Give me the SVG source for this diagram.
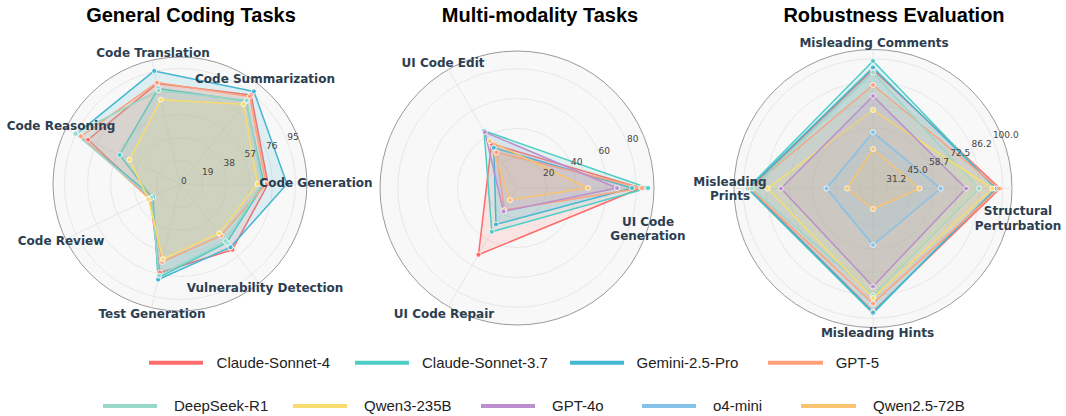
<svg xmlns="http://www.w3.org/2000/svg" width="1066" height="416" viewBox="0 0 1066 416">
<style>
.bg{fill:#f8f8f8;stroke:#9a9a9a;stroke-width:1}
.grid{fill:none;stroke:#e2e2e2;stroke-width:0.8}
.spoke{stroke:#e2e2e2;stroke-width:0.8}
.title{font-family:"Liberation Sans",Arial,sans-serif;font-weight:bold;font-size:20px;fill:#000;text-anchor:middle}
.cat{font-family:"DejaVu Sans",sans-serif;font-weight:bold;font-size:12px;fill:#2C3E50;text-anchor:middle}
.rl{font-family:"DejaVu Sans",sans-serif;font-size:9px;fill:#444}
.lg{font-family:"Liberation Sans",Arial,sans-serif;font-size:15px;fill:#222}
.p{stroke-width:1.5;fill-opacity:0.15;stroke-linejoin:round}
.m{stroke:#fff;stroke-width:0.8}
.ll{stroke-width:4}
.c1{stroke:#FF6B6B;fill:#FF6B6B}
.c2{stroke:#4ECDC4;fill:#4ECDC4}
.c3{stroke:#45B7D1;fill:#45B7D1}
.c4{stroke:#FFA07A;fill:#FFA07A}
.c5{stroke:#98D8C8;fill:#98D8C8}
.c6{stroke:#F7DC6F;fill:#F7DC6F}
.c7{stroke:#BB8FCE;fill:#BB8FCE}
.c8{stroke:#85C1E9;fill:#85C1E9}
.c9{stroke:#F8C471;fill:#F8C471}
.f1{fill:#FF6B6B}.f2{fill:#4ECDC4}.f3{fill:#45B7D1}.f4{fill:#FFA07A}.f5{fill:#98D8C8}.f6{fill:#F7DC6F}.f7{fill:#BB8FCE}.f8{fill:#85C1E9}.f9{fill:#F8C471}
</style>
<rect width="1066" height="416" fill="#fff"/>

<!-- Chart 1 -->
<g id="chart-general">
  <text class="title" x="191" y="22">General Coding Tasks</text>
  <circle class="bg" cx="180" cy="184" r="127"/>
  <g id="c1-grid">
    <circle class="grid" cx="180" cy="184" r="23.1"/>
    <circle class="grid" cx="180" cy="184" r="46.2"/>
    <circle class="grid" cx="180" cy="184" r="69.3"/>
    <circle class="grid" cx="180" cy="184" r="92.4"/>
    <circle class="grid" cx="180" cy="184" r="115.5"/>
    <line class="spoke" x1="180" y1="184" x2="307" y2="184"/>
    <line class="spoke" x1="180" y1="184" x2="259.2" y2="84.7"/>
    <line class="spoke" x1="180" y1="184" x2="151.7" y2="60.2"/>
    <line class="spoke" x1="180" y1="184" x2="65.6" y2="128.9"/>
    <line class="spoke" x1="180" y1="184" x2="65.6" y2="239.1"/>
    <line class="spoke" x1="180" y1="184" x2="151.7" y2="307.8"/>
    <line class="spoke" x1="180" y1="184" x2="259.2" y2="283.3"/>
  </g>
  <g id="c1-series">
    <polygon class="p c1" points="268,184 251.1,94.9 157.1,83.6 88.1,139.7 150.3,198.3 159.8,272.7 232.4,249.7"/>
    <polygon class="p c2" points="264,184 246.1,101.1 158.2,88.5 119.6,154.9 152.1,197.5 158.6,277.6 226.8,242.6"/>
    <polygon class="p c3" points="287,184 253.9,91.4 154.2,70.9 76.4,134.1 153,197 158.2,279.5 230.5,247.3"/>
    <polygon class="p c4" points="266,184 249.8,96.4 156.9,82.6 80.9,136.3 149.4,198.8 162.2,262 221.2,235.6"/>
    <polygon class="p c5" points="262,184 246.7,100.3 158.6,90.4 75.5,133.7 151.2,197.9 159.1,275.6 225.5,241.1"/>
    <polygon class="p c6" points="257.5,184 243.6,104.3 160.8,99.7 129.5,159.7 148.5,199.2 162.9,259.1 219.3,233.3"/>
    <g class="m f1"><circle cx="268" cy="184" r="2.5"/><circle cx="251.1" cy="94.9" r="2.5"/><circle cx="157.1" cy="83.6" r="2.5"/><circle cx="88.1" cy="139.7" r="2.5"/><circle cx="150.3" cy="198.3" r="2.5"/><circle cx="159.8" cy="272.7" r="2.5"/><circle cx="232.4" cy="249.7" r="2.5"/></g>
    <g class="m f2"><circle cx="264" cy="184" r="2.5"/><circle cx="246.1" cy="101.1" r="2.5"/><circle cx="158.2" cy="88.5" r="2.5"/><circle cx="119.6" cy="154.9" r="2.5"/><circle cx="152.1" cy="197.5" r="2.5"/><circle cx="158.6" cy="277.6" r="2.5"/><circle cx="226.8" cy="242.6" r="2.5"/></g>
    <g class="m f3"><circle cx="287" cy="184" r="2.5"/><circle cx="253.9" cy="91.4" r="2.5"/><circle cx="154.2" cy="70.9" r="2.5"/><circle cx="76.4" cy="134.1" r="2.5"/><circle cx="153" cy="197" r="2.5"/><circle cx="158.2" cy="279.5" r="2.5"/><circle cx="230.5" cy="247.3" r="2.5"/></g>
    <g class="m f4"><circle cx="266" cy="184" r="2.5"/><circle cx="249.8" cy="96.4" r="2.5"/><circle cx="156.9" cy="82.6" r="2.5"/><circle cx="80.9" cy="136.3" r="2.5"/><circle cx="149.4" cy="198.8" r="2.5"/><circle cx="162.2" cy="262" r="2.5"/><circle cx="221.2" cy="235.6" r="2.5"/></g>
    <g class="m f5"><circle cx="262" cy="184" r="2.5"/><circle cx="246.7" cy="100.3" r="2.5"/><circle cx="158.6" cy="90.4" r="2.5"/><circle cx="75.5" cy="133.7" r="2.5"/><circle cx="151.2" cy="197.9" r="2.5"/><circle cx="159.1" cy="275.6" r="2.5"/><circle cx="225.5" cy="241.1" r="2.5"/></g>
    <g class="m f6"><circle cx="257.5" cy="184" r="2.5"/><circle cx="243.6" cy="104.3" r="2.5"/><circle cx="160.8" cy="99.7" r="2.5"/><circle cx="129.5" cy="159.7" r="2.5"/><circle cx="148.5" cy="199.2" r="2.5"/><circle cx="162.9" cy="259.1" r="2.5"/><circle cx="219.3" cy="233.3" r="2.5"/></g>
  </g>
  <g id="c1-rlabels">
    <text class="rl" x="181" y="183.5">0</text>
    <text class="rl" x="202" y="175">19</text>
    <text class="rl" x="223.5" y="166">38</text>
    <text class="rl" x="244.5" y="157.3">57</text>
    <text class="rl" x="266" y="148.5">76</text>
    <text class="rl" x="287.3" y="139.8">95</text>
  </g>
  <g id="c1-labels">
    <text class="cat" x="316" y="187">Code Generation</text>
    <text class="cat" x="265" y="83">Code Summarization</text>
    <text class="cat" x="153" y="57">Code Translation</text>
    <text class="cat" x="61" y="130">Code Reasoning</text>
    <text class="cat" x="61" y="245">Code Review</text>
    <text class="cat" x="152" y="318">Test Generation</text>
    <text class="cat" x="265" y="292">Vulnerability Detection</text>
  </g>
</g>

<!-- Chart 2 -->
<g id="chart-multimodal">
  <text class="title" x="540" y="22">Multi-modality Tasks</text>
  <circle class="bg" cx="517" cy="188" r="137"/>
  <g id="c2-grid">
    <circle class="grid" cx="517" cy="188" r="29.8"/>
    <circle class="grid" cx="517" cy="188" r="59.6"/>
    <circle class="grid" cx="517" cy="188" r="89.4"/>
    <circle class="grid" cx="517" cy="188" r="119.2"/>
    <line class="spoke" x1="517" y1="188" x2="654" y2="188"/>
    <line class="spoke" x1="517" y1="188" x2="448.5" y2="69.4"/>
    <line class="spoke" x1="517" y1="188" x2="448.5" y2="306.6"/>
  </g>
  <g id="c2-series">
    <polygon class="p c1" points="641,188 491.5,143.8 478.5,254.7"/>
    <polygon class="p c2" points="648,188 484,130.8 491.8,231.7"/>
    <polygon class="p c3" points="632,188 493.8,147.7 496,224.4"/>
    <polygon class="p c4" points="642,188 496.5,152.5 504.3,210.1"/>
    <polygon class="p c7" points="617,188 484.8,132.1 503.5,211.4"/>
    <polygon class="p c9" points="588,188 490,141.2 510,200.1"/>
    <g class="m f1"><circle cx="641" cy="188" r="2.5"/><circle cx="491.5" cy="143.8" r="2.5"/><circle cx="478.5" cy="254.7" r="2.5"/></g>
    <g class="m f2"><circle cx="648" cy="188" r="2.5"/><circle cx="484" cy="130.8" r="2.5"/><circle cx="491.8" cy="231.7" r="2.5"/></g>
    <g class="m f3"><circle cx="632" cy="188" r="2.5"/><circle cx="493.8" cy="147.7" r="2.5"/><circle cx="496" cy="224.4" r="2.5"/></g>
    <g class="m f4"><circle cx="642" cy="188" r="2.5"/><circle cx="496.5" cy="152.5" r="2.5"/><circle cx="504.3" cy="210.1" r="2.5"/></g>
    <g class="m f7"><circle cx="617" cy="188" r="2.5"/><circle cx="484.8" cy="132.1" r="2.5"/><circle cx="503.5" cy="211.4" r="2.5"/></g>
    <g class="m f9"><circle cx="588" cy="188" r="2.5"/><circle cx="490" cy="141.2" r="2.5"/><circle cx="510" cy="200.1" r="2.5"/></g>
  </g>
  <g id="c2-rlabels">
    <text class="rl" x="543" y="176.3">20</text>
    <text class="rl" x="571" y="165">40</text>
    <text class="rl" x="598.5" y="153.5">60</text>
    <text class="rl" x="627" y="142">80</text>
  </g>
  <g id="c2-labels">
    <text class="cat" x="648" y="226">UI Code</text>
    <text class="cat" x="648" y="240">Generation</text>
    <text class="cat" x="443" y="67">UI Code Edit</text>
    <text class="cat" x="444" y="318">UI Code Repair</text>
  </g>
</g>

<!-- Chart 3 -->
<g id="chart-robustness">
  <text class="title" x="894" y="22">Robustness Evaluation</text>
  <circle class="bg" cx="873" cy="188.5" r="139"/>
  <g id="c3-grid">
    <circle class="grid" cx="873" cy="188.5" r="14.4"/>
    <circle class="grid" cx="873" cy="188.5" r="37.5"/>
    <circle class="grid" cx="873" cy="188.5" r="60.6"/>
    <circle class="grid" cx="873" cy="188.5" r="83.7"/>
    <circle class="grid" cx="873" cy="188.5" r="106.7"/>
    <circle class="grid" cx="873" cy="188.5" r="129.8"/>
    <line class="spoke" x1="873" y1="188.5" x2="1012" y2="188.5"/>
    <line class="spoke" x1="873" y1="188.5" x2="873" y2="49.5"/>
    <line class="spoke" x1="873" y1="188.5" x2="734" y2="188.5"/>
    <line class="spoke" x1="873" y1="188.5" x2="873" y2="327.5"/>
  </g>
  <g id="c3-series">
    <polygon class="p c1" points="1000,188.5 873,69.5 749.5,188.5 873,311.5"/>
    <polygon class="p c2" points="995.5,188.5 873,61 747.5,188.5 873,313.5"/>
    <polygon class="p c3" points="996.5,188.5 873,67.5 748.5,188.5 873,312.5"/>
    <polygon class="p c4" points="999,188.5 873,85 750,188.5 873,303.5"/>
    <polygon class="p c5" points="979,188.5 873,72.5 752,188.5 873,295.5"/>
    <polygon class="p c6" points="992.5,188.5 873,110 767.5,188.5 873,298"/>
    <polygon class="p c7" points="966,188.5 873,96 781,188.5 873,286.5"/>
    <polygon class="p c8" points="940.7,188.5 873,132.3 826.5,188.5 873,245"/>
    <polygon class="p c9" points="919.5,188.5 873,149 847,188.5 873,209"/>
    <g class="m f1"><circle cx="1000" cy="188.5" r="2.5"/><circle cx="873" cy="69.5" r="2.5"/><circle cx="749.5" cy="188.5" r="2.5"/><circle cx="873" cy="311.5" r="2.5"/></g>
    <g class="m f2"><circle cx="995.5" cy="188.5" r="2.5"/><circle cx="873" cy="61" r="2.5"/><circle cx="747.5" cy="188.5" r="2.5"/><circle cx="873" cy="313.5" r="2.5"/></g>
    <g class="m f3"><circle cx="996.5" cy="188.5" r="2.5"/><circle cx="873" cy="67.5" r="2.5"/><circle cx="748.5" cy="188.5" r="2.5"/><circle cx="873" cy="312.5" r="2.5"/></g>
    <g class="m f4"><circle cx="999" cy="188.5" r="2.5"/><circle cx="873" cy="85" r="2.5"/><circle cx="750" cy="188.5" r="2.5"/><circle cx="873" cy="303.5" r="2.5"/></g>
    <g class="m f5"><circle cx="979" cy="188.5" r="2.5"/><circle cx="873" cy="72.5" r="2.5"/><circle cx="752" cy="188.5" r="2.5"/><circle cx="873" cy="295.5" r="2.5"/></g>
    <g class="m f6"><circle cx="992.5" cy="188.5" r="2.5"/><circle cx="873" cy="110" r="2.5"/><circle cx="767.5" cy="188.5" r="2.5"/><circle cx="873" cy="298" r="2.5"/></g>
    <g class="m f7"><circle cx="966" cy="188.5" r="2.5"/><circle cx="873" cy="96" r="2.5"/><circle cx="781" cy="188.5" r="2.5"/><circle cx="873" cy="286.5" r="2.5"/></g>
    <g class="m f8"><circle cx="940.7" cy="188.5" r="2.5"/><circle cx="873" cy="132.3" r="2.5"/><circle cx="826.5" cy="188.5" r="2.5"/><circle cx="873" cy="245" r="2.5"/></g>
    <g class="m f9"><circle cx="919.5" cy="188.5" r="2.5"/><circle cx="873" cy="149" r="2.5"/><circle cx="847" cy="188.5" r="2.5"/><circle cx="873" cy="209" r="2.5"/></g>
  </g>
  <g id="c3-rlabels">
    <text class="rl" x="886.3" y="182.3">31.2</text>
    <text class="rl" x="907.6" y="173.4">45.0</text>
    <text class="rl" x="929" y="164.6">58.7</text>
    <text class="rl" x="950.3" y="155.8">72.5</text>
    <text class="rl" x="971.6" y="147">86.2</text>
    <text class="rl" x="992.9" y="138.1">100.0</text>
  </g>
  <g id="c3-labels">
    <text class="cat" x="874" y="47">Misleading Comments</text>
    <text class="cat" x="730" y="186">Misleading</text>
    <text class="cat" x="730" y="200">Prints</text>
    <text class="cat" x="1018" y="215">Structural</text>
    <text class="cat" x="1018" y="229.5">Perturbation</text>
    <text class="cat" x="877.5" y="337">Misleading Hints</text>
  </g>
</g>

<!-- Legend -->
<g id="legend">
  <line class="ll c1" x1="149" y1="362.7" x2="203" y2="362.7"/><text class="lg" x="216.6" y="368">Claude-Sonnet-4</text>
  <line class="ll c2" x1="355" y1="362.7" x2="409" y2="362.7"/><text class="lg" x="422" y="368">Claude-Sonnet-3.7</text>
  <line class="ll c3" x1="570" y1="362.7" x2="624" y2="362.7"/><text class="lg" x="636.6" y="368">Gemini-2.5-Pro</text>
  <line class="ll c4" x1="768" y1="362.7" x2="823" y2="362.7"/><text class="lg" x="835.7" y="368">GPT-5</text>
  <line class="ll c5" x1="103" y1="406" x2="157" y2="406"/><text class="lg" x="174" y="411.3">DeepSeek-R1</text>
  <line class="ll c6" x1="293" y1="406" x2="347" y2="406"/><text class="lg" x="364" y="411.3">Qwen3-235B</text>
  <line class="ll c7" x1="481" y1="406" x2="535" y2="406"/><text class="lg" x="552" y="411.3">GPT-4o</text>
  <line class="ll c8" x1="642" y1="406" x2="696" y2="406"/><text class="lg" x="713" y="411.3">o4-mini</text>
  <line class="ll c9" x1="801" y1="406" x2="856" y2="406"/><text class="lg" x="873" y="411.3">Qwen2.5-72B</text>
</g>
</svg>
